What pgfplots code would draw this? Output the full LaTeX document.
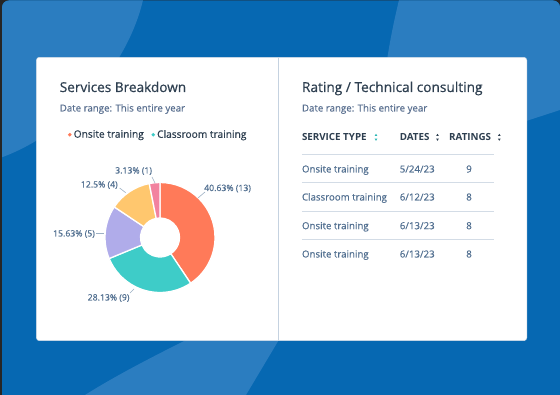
\documentclass[border=0pt]{standalone}
\usepackage{pgfplots}
\pgfplotsset{compat=1.18}
\usepackage{pgfplotstable}
\usepackage{fontspec}
\setmainfont{Open Sans}
\newfontfamily\medfont{Open Sans}[FakeBold=0.6]
\newfontfamily\semifont{Open Sans}[FakeBold=0.35]
\definecolor{bgdark}{HTML}{0668B2}
\definecolor{bglight}{HTML}{2B7DC0}
\definecolor{ctitle}{HTML}{2E3F50}
\definecolor{csub}{HTML}{5A7090}
\definecolor{crow}{HTML}{516F90}
\definecolor{cline}{HTML}{D3DCE6}
\definecolor{cdiv}{HTML}{C5D2E0}
\definecolor{clead}{HTML}{9DB0C4}
\definecolor{cicon}{HTML}{2DB8B6}
\definecolor{sl0}{HTML}{FF7A59}
\definecolor{sl1}{HTML}{3ECCC8}
\definecolor{sl2}{HTML}{B0ACEA}
\definecolor{sl3}{HTML}{FFC76E}
\definecolor{sl4}{HTML}{F2829F}

\pgfplotstableread{
slice value
0 13
1 9
2 5
3 4
4 1
}\donut

\pgfplotstablegetrowsof{\donut}
\pgfmathtruncatemacro\nslices{\pgfplotsretval-1}
\gdef\total{0}
\foreach \i in {0,...,\nslices}{%
  \pgfplotstablegetelem{\i}{value}\of\donut
  \let\v\pgfplotsretval
  \pgfmathsetmacro\t{\total+\v}%
  \xdef\total{\t}}
\gdef\cum{0}
\foreach \i in {0,...,\nslices}{%
  \pgfplotstablegetelem{\i}{value}\of\donut
  \let\v\pgfplotsretval
  \pgfmathsetmacro\sa{90-360*\cum/\total}%
  \pgfmathsetmacro\nc{\cum+\v}%
  \pgfmathsetmacro\ea{90-360*\nc/\total}%
  \expandafter\xdef\csname sa\i\endcsname{\sa}%
  \expandafter\xdef\csname ea\i\endcsname{\ea}%
  \xdef\cum{\nc}}
\def\cx{160}
\def\cy{157.5}
\def\ro{55}
\def\ri{19.5}

\newcommand\fs[1]{\fontsize{#1}{#1}\selectfont}

\begin{document}
\begin{tikzpicture}
\useasboundingbox (0,0) rectangle (560pt,395pt);
\begin{axis}[at={(0,0)},anchor=south west,
  width=560pt,height=395pt,scale only axis,
  xmin=0,xmax=560,ymin=0,ymax=395,hide axis,clip=false,
  legend style={at={(0.1209,0.659)},anchor=west,draw=none,fill=none,
    inner sep=0pt,font=\medfont\fs{10.2},text=ctitle,
    /tikz/every even column/.append style={column sep=5.5pt}},
  legend columns=2,
  legend image code/.code={\fill[#1] (0pt,0pt) circle (1.9pt);},
]
% background
\fill[black!85] (axis cs:0,0) rectangle (axis cs:560,395);
\fill[bgdark,rounded corners=7pt] (axis cs:2,-10) rectangle (axis cs:560,394.5);
\begin{scope}
\clip[rounded corners=7pt] (axis cs:2,-10) rectangle (axis cs:560,394.5);
\fill[bglight] (axis cs:0,395) -- (axis cs:143,395) .. controls (axis cs:128,330) and (axis cs:70,262) .. (axis cs:0,237) -- cycle;
\fill[bglight] (axis cs:399,395) .. controls (axis cs:393,370) and (axis cs:388,345) .. (axis cs:385,320) -- (axis cs:520,272) -- (axis cs:560,285) -- (axis cs:560,395) -- cycle;
\fill[bglight] (axis cs:85,0) .. controls (axis cs:120,22) and (axis cs:160,42) .. (axis cs:200,62) -- (axis cs:283,62) -- (axis cs:246,0) -- cycle;
\end{scope}
% card
\fill[white,draw=cline,line width=0.5pt,rounded corners=3pt] (axis cs:36.4,54.3) rectangle (axis cs:526.8,337.7);
\draw[cdiv,line width=0.8pt] (axis cs:278,54.3) -- (axis cs:278,337.7);

% left panel text
\node[anchor=base west,inner sep=0,text=ctitle,font=\medfont\fs{13.6}] at (axis cs:59.6,303) {Services Breakdown};
\node[anchor=base west,inner sep=0,text=csub,font=\semifont\fs{9.7}] at (axis cs:59.6,283.5) {Date range: This entire year};

% legend
\addlegendimage{fill=sl0,draw=none}
\addlegendentry{Onsite training}
\addlegendimage{fill=sl1,draw=none}
\addlegendentry{Classroom training}

% donut
\pgfplotsinvokeforeach{0,...,4}{
  \fill[sl#1,draw=white,line width=1.3pt,line join=round]
   (axis cs:{\cx+\ro*cos(\csname sa#1\endcsname)},{\cy+\ro*sin(\csname sa#1\endcsname)})
   arc[start angle=\csname sa#1\endcsname,end angle=\csname ea#1\endcsname,radius=\ro pt]
   -- (axis cs:{\cx+\ri*cos(\csname ea#1\endcsname)},{\cy+\ri*sin(\csname ea#1\endcsname)})
   arc[start angle=\csname ea#1\endcsname,end angle=\csname sa#1\endcsname,radius=\ri pt]
   -- cycle;
}
% donut labels
\begin{scope}[every node/.style={anchor=base west,inner sep=0,text=crow,font=\semifont\fs{8.7}}]
\node at (axis cs:204,204) {40.63\% (13)};
\node at (axis cs:87.5,94.5) {28.13\% (9)};
\node at (axis cs:52.9,158.5) {15.63\% (5)};
\node at (axis cs:80.7,207.5) {12.5\% (4)};
\node at (axis cs:115,221.5) {3.13\% (1)};
\end{scope}
\draw[clead,line width=0.6pt] (axis cs:205,203) -- (axis cs:198,197);
\draw[clead,line width=0.6pt] (axis cs:130,102) -- (axis cs:134,106);
\draw[clead,line width=0.6pt] (axis cs:96.4,161.7) -- (axis cs:103.6,161.7);
\draw[clead,line width=0.6pt] (axis cs:119.6,207) -- (axis cs:125.7,202.3);
\draw[clead,line width=0.6pt] (axis cs:152,218) -- (axis cs:155,212);

% right panel
\node[anchor=base west,inner sep=0,text=ctitle,font=\medfont\fs{13.7}] at (axis cs:301.8,303) {Rating / Technical consulting};
\node[anchor=base west,inner sep=0,text=csub,font=\semifont\fs{9.7}] at (axis cs:301.8,283.5) {Date range: This entire year};
\begin{scope}[every node/.style={anchor=base west,inner sep=0,text=ctitle,font=\bfseries\fs{9.8}}]
\node at (axis cs:301.8,254.2) {SERVICE TYPE};
\node at (axis cs:399.6,254.2) {DATES};
\node at (axis cs:449,254.2) {RATINGS};
\end{scope}
% sort icons
\fill[cicon] (axis cs:374.6,259) -- (axis cs:377.4,259) -- (axis cs:376,261.2) -- cycle;
\fill[cicon] (axis cs:374.6,256.4) -- (axis cs:377.4,256.4) -- (axis cs:376,254.2) -- cycle;
\fill[ctitle] (axis cs:436.1,259) -- (axis cs:438.9,259) -- (axis cs:437.5,261.2) -- cycle;
\fill[ctitle] (axis cs:436.1,256.4) -- (axis cs:438.9,256.4) -- (axis cs:437.5,254.2) -- cycle;
\fill[ctitle] (axis cs:497.9,259) -- (axis cs:500.7,259) -- (axis cs:499.3,261.2) -- cycle;
\fill[ctitle] (axis cs:497.9,256.4) -- (axis cs:500.7,256.4) -- (axis cs:499.3,254.2) -- cycle;
% rows
\pgfplotsinvokeforeach{240.7,212.7,184,156} {\draw[cline,line width=0.8pt] (axis cs:301.8,#1) -- (axis cs:494,#1);}
\begin{scope}[every node/.style={anchor=base west,inner sep=0,text=crow,font=\semifont\fs{9.7}}]
\node at (axis cs:301.8,222.5) {Onsite training};
\node at (axis cs:301.8,194.5) {Classroom training};
\node at (axis cs:301.8,165.8) {Onsite training};
\node at (axis cs:301.8,137.5) {Onsite training};
\node at (axis cs:399.6,222.5) {5/24/23};
\node at (axis cs:399.6,194.5) {6/12/23};
\node at (axis cs:399.6,165.8) {6/13/23};
\node at (axis cs:399.6,137.5) {6/13/23};
\end{scope}
\begin{scope}[every node/.style={anchor=base,inner sep=0,text=crow,font=\semifont\fs{9.7}}]
\node at (axis cs:469,222.5) {9};
\node at (axis cs:469,194.5) {8};
\node at (axis cs:469,165.8) {8};
\node at (axis cs:469,137.5) {8};
\end{scope}
\end{axis}
\end{tikzpicture}
\end{document}
